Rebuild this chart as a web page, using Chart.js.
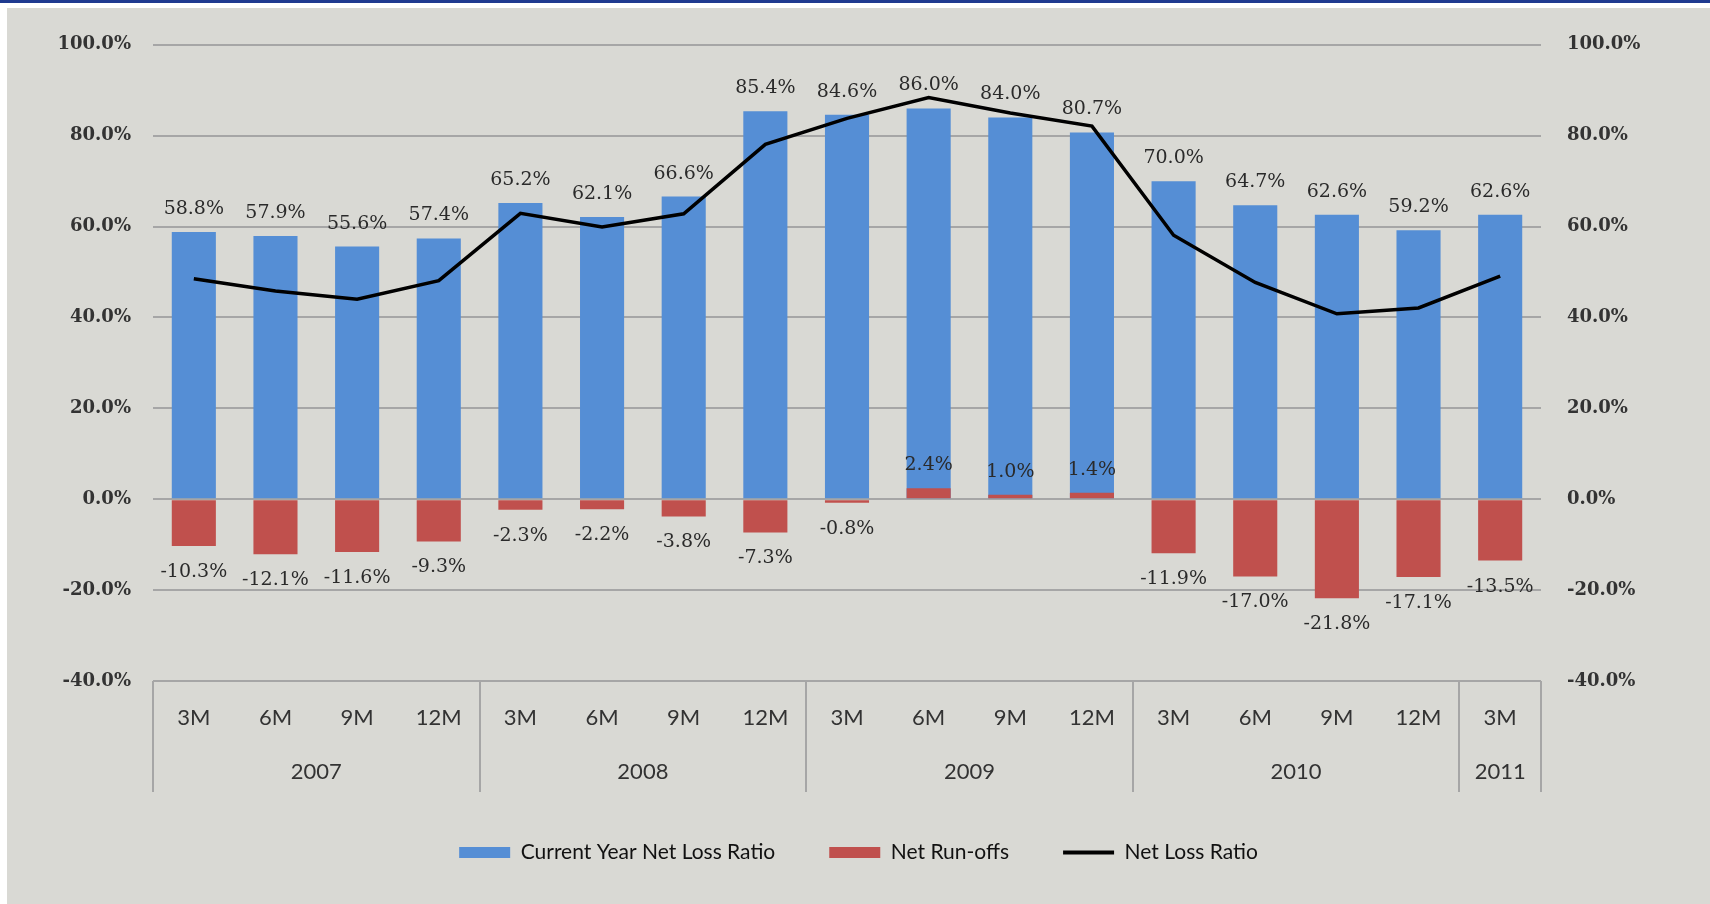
<!DOCTYPE html>
<html>
<head>
<meta charset="utf-8">
<script src="https://cdn.jsdelivr.net/npm/chart.js@4.4.0/dist/chart.umd.min.js"></script>
<style>
	html, body { margin: 0; padding: 0; background: #fff; width: 1710px; height: 904px; overflow: hidden; }
	#topbar { position: absolute; left: 0; top: 0; width: 1710px; height: 3px; background: #1f3a8f; }
	#wrap { position: absolute; left: 7px; top: 8px; width: 1703px; height: 896px; background: #d9d9d4; }
</style>
</head>
<body>
<div id="topbar"></div>
<div id="wrap"><canvas id="chart" width="1703" height="896"></canvas></div>
<script>
const periods = [`3M`, `6M`, `9M`, `12M`, `3M`, `6M`, `9M`, `12M`, `3M`, `6M`, `9M`, `12M`, `3M`, `6M`, `9M`, `12M`, `3M`];
const years = [`2007`, `2008`, `2009`, `2010`, `2011`];
const yearSpans = [4, 4, 4, 4, 1];

const currentYear = [58.8, 57.9, 55.6, 57.4, 65.2, 62.1, 66.6, 85.4, 84.6, 86.0, 84.0, 80.7, 70.0, 64.7, 62.6, 59.2, 62.6];
const runOffs = [-10.3, -12.1, -11.6, -9.3, -2.3, -2.2, -3.8, -7.3, -0.8, 2.4, 1.0, 1.4, -11.9, -17.0, -21.8, -17.1, -13.5];
const netLoss = [48.5, 45.8, 44.0, 48.1, 62.9, 59.9, 62.8, 78.1, 83.8, 88.4, 85.0, 82.1, 58.1, 47.7, 40.8, 42.1, 49.1];

const yMin = -40;
const yMax = 100;
const yStep = 20;

const blue = `#558ed5`;
const red = `#c0504d`;
const gridColor = `#a6a6a6`;
const textColor = `#333333`;

const pct = (v) => `${Number(v).toFixed(1)}%`;

// value labels above / below each bar
const barLabels = {
	id: `barLabels`,
	afterDatasetsDraw(chart) {
		const ctx = chart.ctx;
		ctx.save();
		ctx.font = `19px "DejaVu Serif"`;
		ctx.fillStyle = `#2a2a2a`;
		ctx.textAlign = `center`;
		ctx.textBaseline = `middle`;
		for (const dsIndex of [0, 1]) {
			const meta = chart.getDatasetMeta(dsIndex);
			const values = chart.data.datasets[dsIndex].data;
			meta.data.forEach((bar, i) => {
				const v = values[i];
				const y = v >= 0 ? bar.y - 23 : bar.y + 26;
				ctx.fillText(pct(v), bar.x, y);
			});
		};
		ctx.restore();
	},
};

// second row of the category axis: years with separator lines
const yearAxis = {
	id: `yearAxis`,
	afterDraw(chart) {
		const ctx = chart.ctx;
		const x = chart.scales.x;
		const area = chart.chartArea;
		const half = (x.getPixelForValue(1) - x.getPixelForValue(0)) / 2;

		ctx.save();
		ctx.strokeStyle = gridColor;
		ctx.lineWidth = 2;
		ctx.font = `22px Lato`;
		ctx.fillStyle = textColor;
		ctx.textAlign = `center`;
		ctx.textBaseline = `middle`;

		let start = 0;
		let left = area.left;
		const edges = [left];
		years.forEach((year, g) => {
			const end = start + yearSpans[g];
			const right = end >= periods.length ? area.right : x.getPixelForValue(end) - half;
			edges.push(right);
			ctx.fillText(year, (left + right) / 2, area.bottom + 91);
			left = right;
			start = end;
		});
		for (const e of edges) {
			ctx.beginPath();
			ctx.moveTo(Math.round(e), area.bottom);
			ctx.lineTo(Math.round(e), area.bottom + 111);
			ctx.stroke();
		};
		ctx.restore();
	},
};

const tickFont = { family: `"DejaVu Serif"`, size: 18, weight: `bold` };

new Chart(document.getElementById(`chart`), {
	type: `bar`,
	data: {
		labels: periods,
		datasets: [
			{
				label: `Current Year Net Loss Ratio`,
				data: currentYear,
				backgroundColor: blue,
				borderWidth: 0,
				order: 2,
			},
			{
				label: `Net Run-offs`,
				data: runOffs,
				backgroundColor: red,
				borderWidth: 0,
				order: 1,
			},
			{
				type: `line`,
				label: `Net Loss Ratio`,
				data: netLoss,
				yAxisID: `y2`,
				borderColor: `#000000`,
				backgroundColor: `#000000`,
				borderWidth: 3.5,
				pointRadius: 0,
				tension: 0,
				order: 0,
			},
		],
	},
	options: {
		responsive: false,
		devicePixelRatio: 1,
		animation: false,
		categoryPercentage: 0.54,
		barPercentage: 1,
		layout: {
			padding: { top: 33, left: 0, right: 0, bottom: 31 },
		},
		scales: {
			x: {
				stacked: true,
				grid: { display: false, drawTicks: false },
				border: { display: false },
				ticks: {
					color: textColor,
					font: { family: `Lato`, size: 22 },
					padding: 24,
					maxRotation: 0,
					autoSkip: false,
				},
				afterFit(scale) {
					scale.height = 107;
				},
			},
			y: {
				stacked: false,
				position: `left`,
				min: yMin,
				max: yMax,
				grid: { color: gridColor, lineWidth: 2, drawTicks: false },
				border: { display: false },
				ticks: {
					stepSize: yStep,
					color: textColor,
					font: tickFont,
					padding: 22,
					callback: (v) => pct(v),
				},
				afterFit(scale) {
					scale.width = 146;
				},
			},
			y2: {
				position: `right`,
				min: yMin,
				max: yMax,
				grid: { display: false, drawTicks: false },
				border: { display: false },
				ticks: {
					stepSize: yStep,
					color: textColor,
					font: tickFont,
					padding: 26,
					callback: (v) => pct(v),
				},
				afterFit(scale) {
					scale.width = 169;
				},
			},
		},
		plugins: {
			tooltip: { enabled: false },
			legend: {
				position: `bottom`,
				labels: {
					color: `#111111`,
					font: { family: `Lato`, size: 21 },
					usePointStyle: true,
					pointStyleWidth: 51,
					boxHeight: 11,
					padding: 54,
					sort: (a, b) => a.datasetIndex - b.datasetIndex,
					generateLabels(chart) {
						const items = Chart.defaults.plugins.legend.labels.generateLabels(chart);
						return items.map((item) => {
							const ds = chart.data.datasets[item.datasetIndex];
							if (ds.type === `line`) {
								return { ...item, pointStyle: `line`, strokeStyle: `#000000`, lineWidth: 4 };
							}
							return { ...item, pointStyle: `rect`, fillStyle: ds.backgroundColor, lineWidth: 0 };
						});
					},
				},
			},
		},
	},
	plugins: [barLabels, yearAxis],
});
</script>
</body>
</html>
